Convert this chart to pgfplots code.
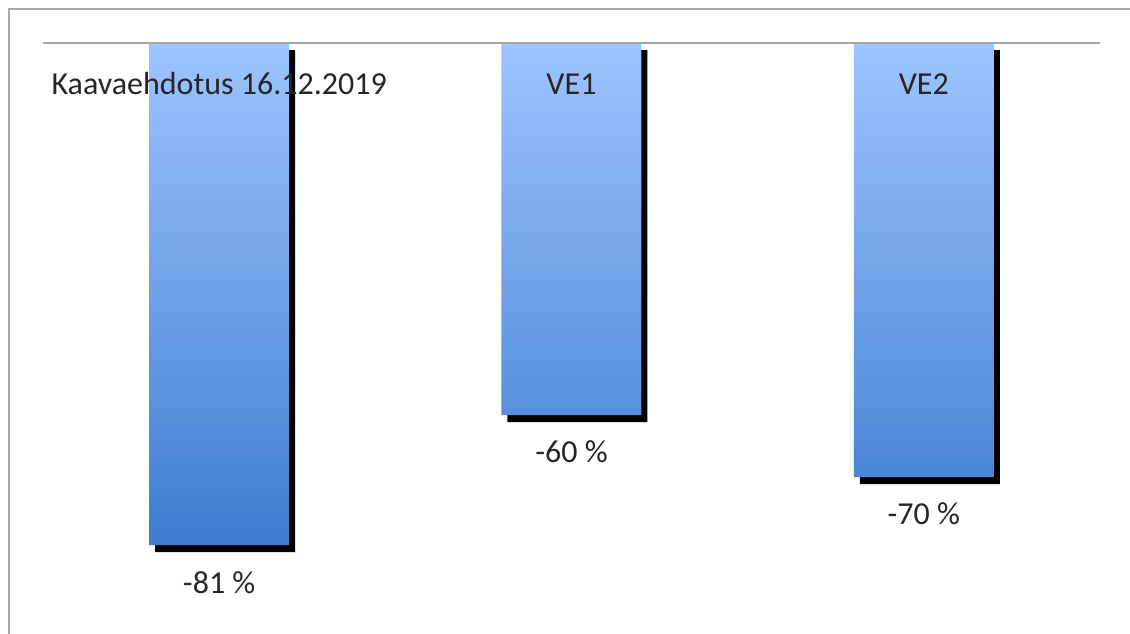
\documentclass[border=0pt]{standalone}
\usepackage{fontspec}
\setmainfont{Carlito}
\usepackage{pgfplots}
\pgfplotsset{compat=1.18}
\definecolor{bartop}{RGB}{157,196,255}
\definecolor{barbot}{RGB}{62,124,208}
\definecolor{framegray}{RGB}{166,166,166}
\definecolor{txt}{RGB}{38,38,38}
\begin{document}
\begin{tikzpicture}
\useasboundingbox (0pt,0pt) rectangle (1130pt,633pt);
\clip (0pt,0pt) rectangle (1130pt,633pt);
\fill[white] (0pt,0pt) rectangle (1130pt,633pt);
\draw[framegray, line width=2pt] (9pt,-5pt) -- (9pt,624pt) -- (1140pt,624pt);
\begin{axis}[
  at={(43pt,32pt)}, anchor=south west,
  scale only axis, width=1057pt, height=558pt,
  xmin=-0.5, xmax=2.5, ymin=-90, ymax=0,
  axis lines=none, clip=false,
  ybar, bar width=140pt,
  font=\fontsize{32}{38}\selectfont\color{txt},
]
\addplot[fill=black, draw=none, bar shift=6pt, yshift=-7pt] coordinates {(0,-81) (1,-60) (2,-70)};
\addplot[top color=bartop, bottom color=barbot, draw=none, bar shift=0pt,
  point meta=explicit symbolic,
  nodes near coords={\pgfplotspointmeta~\%},
  every node near coord/.append style={anchor=center, yshift=-37pt, color=txt}
] coordinates {(0,-81) [-81] (1,-60) [-60] (2,-70) [-70]};
\draw[framegray, line width=2pt] (axis cs:-0.5,0) -- (axis cs:2.5,0);
\node[txt] at (axis cs:0,-6.6) {Kaavaehdotus 16.12.2019};
\node[txt] at (axis cs:1,-6.6) {VE1};
\node[txt] at (axis cs:2,-6.6) {VE2};
\end{axis}
\end{tikzpicture}
\end{document}
